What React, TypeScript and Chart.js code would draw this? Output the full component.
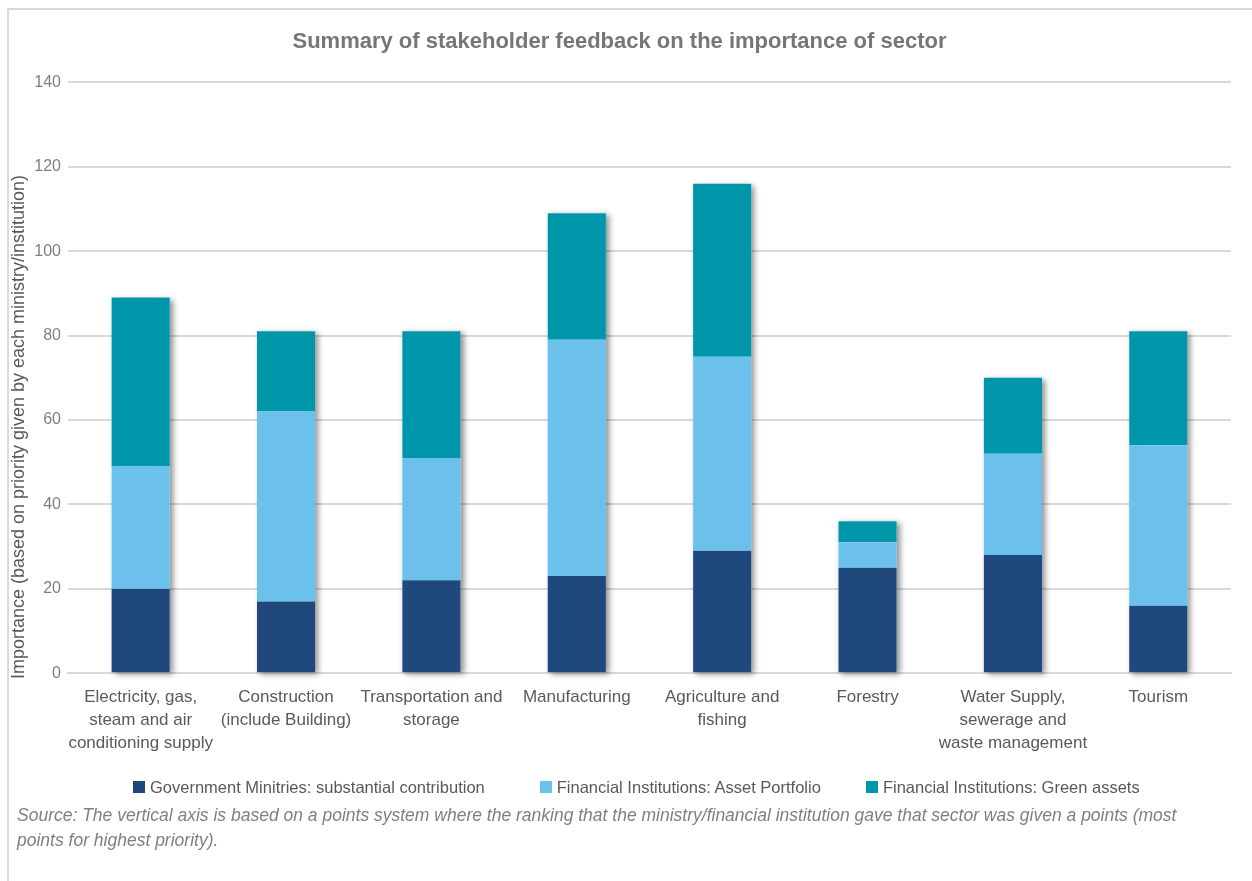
import React, { useEffect, useRef } from "react";
import { Chart, registerables } from "chart.js";

Chart.register(...registerables);

const categories: string[][] = [
  ["Electricity, gas,", "steam and air", "conditioning supply"],
  ["Construction", "(include Building)"],
  ["Transportation and", "storage"],
  ["Manufacturing"],
  ["Agriculture and", "fishing"],
  ["Forestry"],
  ["Water Supply,", "sewerage and", "waste management"],
  ["Tourism"],
];

const governmentMinistries = [20, 17, 22, 23, 29, 25, 28, 16];
const assetPortfolio = [29, 45, 29, 56, 46, 6, 24, 38];
const greenAssets = [40, 19, 30, 30, 41, 5, 18, 27];

const seriesNames = [
  "Government Minitries: substantial contribution",
  "Financial Institutions: Asset Portfolio",
  "Financial Institutions: Green assets",
];
const seriesColors = ["#1F497D", "#6BC1EC", "#0096AA"];

const yTicks = [0, 20, 40, 60, 80, 100, 120, 140];

const FONT = "'Liberation Sans', Arial, sans-serif";

const shadowPlugin = {
  id: "stackShadow",
  beforeDatasetsDraw(chart: any) {
    const ctx = chart.ctx;
    const first = chart.getDatasetMeta(0);
    const last = chart.getDatasetMeta(chart.data.datasets.length - 1);
    ctx.save();
    ctx.shadowColor = "rgba(0,0,0,0.45)";
    ctx.shadowBlur = 6;
    ctx.shadowOffsetX = 3;
    ctx.shadowOffsetY = 2;
    ctx.fillStyle = "#ffffff";
    first.data.forEach((el: any, i: number) => {
      const top = last.data[i].y;
      const base = el.base;
      const w = el.width;
      ctx.fillRect(el.x - w / 2, top, w, base - top);
    });
    ctx.restore();
  },
};

const axisTitlePlugin = {
  id: "yAxisTitle",
  afterDraw(chart: any) {
    const ctx = chart.ctx;
    ctx.save();
    ctx.translate(19, 427);
    ctx.rotate(-Math.PI / 2);
    ctx.font = `18px ${FONT}`;
    ctx.fillStyle = "#595959";
    ctx.textAlign = "center";
    ctx.textBaseline = "middle";
    ctx.fillText("Importance (based on priority given by each ministry/institution)", 0, 0);
    ctx.restore();
  },
};

const legendMargins = [0, 55, 45];

export default function App() {
  const ref = useRef<HTMLCanvasElement>(null);

  useEffect(() => {
    document.documentElement.style.overflow = "hidden";
    document.body.style.overflow = "hidden";
    if (!ref.current) return;
    const chart = new Chart(ref.current, {
      type: "bar",
      data: {
        labels: categories,
        datasets: [
          { label: seriesNames[0], data: governmentMinistries, backgroundColor: seriesColors[0] },
          { label: seriesNames[1], data: assetPortfolio, backgroundColor: seriesColors[1] },
          { label: seriesNames[2], data: greenAssets, backgroundColor: seriesColors[2] },
        ],
      },
      options: {
        animation: false,
        responsive: false,
        maintainAspectRatio: false,
        layout: { padding: { left: 8, right: 21, top: 0, bottom: 16 } },
        datasets: { bar: { categoryPercentage: 1, barPercentage: 0.4 } },
        plugins: {
          title: {
            display: true,
            text: "Summary of stakeholder feedback on the importance of sector",
            color: "#767676",
            font: { family: FONT, size: 22, weight: "bold" },
            padding: { top: 29, bottom: 27 },
          },
          legend: { display: false },
          tooltip: { enabled: false },
        },
        scales: {
          x: {
            stacked: true,
            grid: { display: false, drawTicks: false },
            border: { display: true, color: "#d9d9d9", width: 2 },
            ticks: {
              color: "#595959",
              font: { family: FONT, size: 17, lineHeight: 1.35 },
              padding: 13,
              maxRotation: 0,
              autoSkip: false,
            },
          },
          y: {
            stacked: true,
            min: 0,
            max: 140,
            afterFit: (s: any) => {
              s.width = 60;
            },
            afterBuildTicks: (s: any) => {
              s.ticks = yTicks.map((v) => ({ value: v }));
            },
            grid: { color: "#d9d9d9", lineWidth: 2, drawTicks: false },
            border: { display: false },
            ticks: {
              color: "#7f7f7f",
              font: { family: FONT, size: 16 },
              padding: 7,
            },
          },
        },
      },
      plugins: [shadowPlugin, axisTitlePlugin],
    });
    return () => chart.destroy();
  }, []);

  return (
    <div style={{ position: "relative", width: 1236, height: 860 }}>
      <div
        style={{
          position: "fixed",
          left: 7,
          top: 8,
          right: -20,
          bottom: -20,
          borderTop: "2px solid #d9d9d9",
          borderLeft: "2px solid #d9d9d9",
        }}
      />
      <canvas
        ref={ref}
        width={1252}
        height={784}
        style={{ position: "fixed", left: 0, top: 0, width: 1252, height: 784 }}
      />
      <div
        style={{
          position: "fixed",
          left: 133,
          top: 775,
          display: "flex",
          alignItems: "center",
          fontFamily: FONT,
          fontSize: 16.5,
          lineHeight: "24px",
          color: "#595959",
          whiteSpace: "nowrap",
        }}
      >
        {seriesNames.map((name, i) => (
          <div key={name} style={{ display: "flex", alignItems: "center", marginLeft: legendMargins[i] }}>
            <span
              style={{
                display: "inline-block",
                width: 12,
                height: 12,
                background: seriesColors[i],
                marginRight: 5,
              }}
            />
            <span>{name}</span>
          </div>
        ))}
      </div>
      <div
        style={{
          position: "fixed",
          left: 17,
          top: 803,
          fontFamily: FONT,
          fontStyle: "italic",
          fontSize: 17.5,
          lineHeight: "25px",
          color: "#7f7f7f",
          whiteSpace: "nowrap",
        }}
      >
        Source: The vertical axis is based on a points system where the ranking that the ministry/financial institution gave that sector was given a points (most
        <br />
        points for highest priority).
      </div>
    </div>
  );
}
